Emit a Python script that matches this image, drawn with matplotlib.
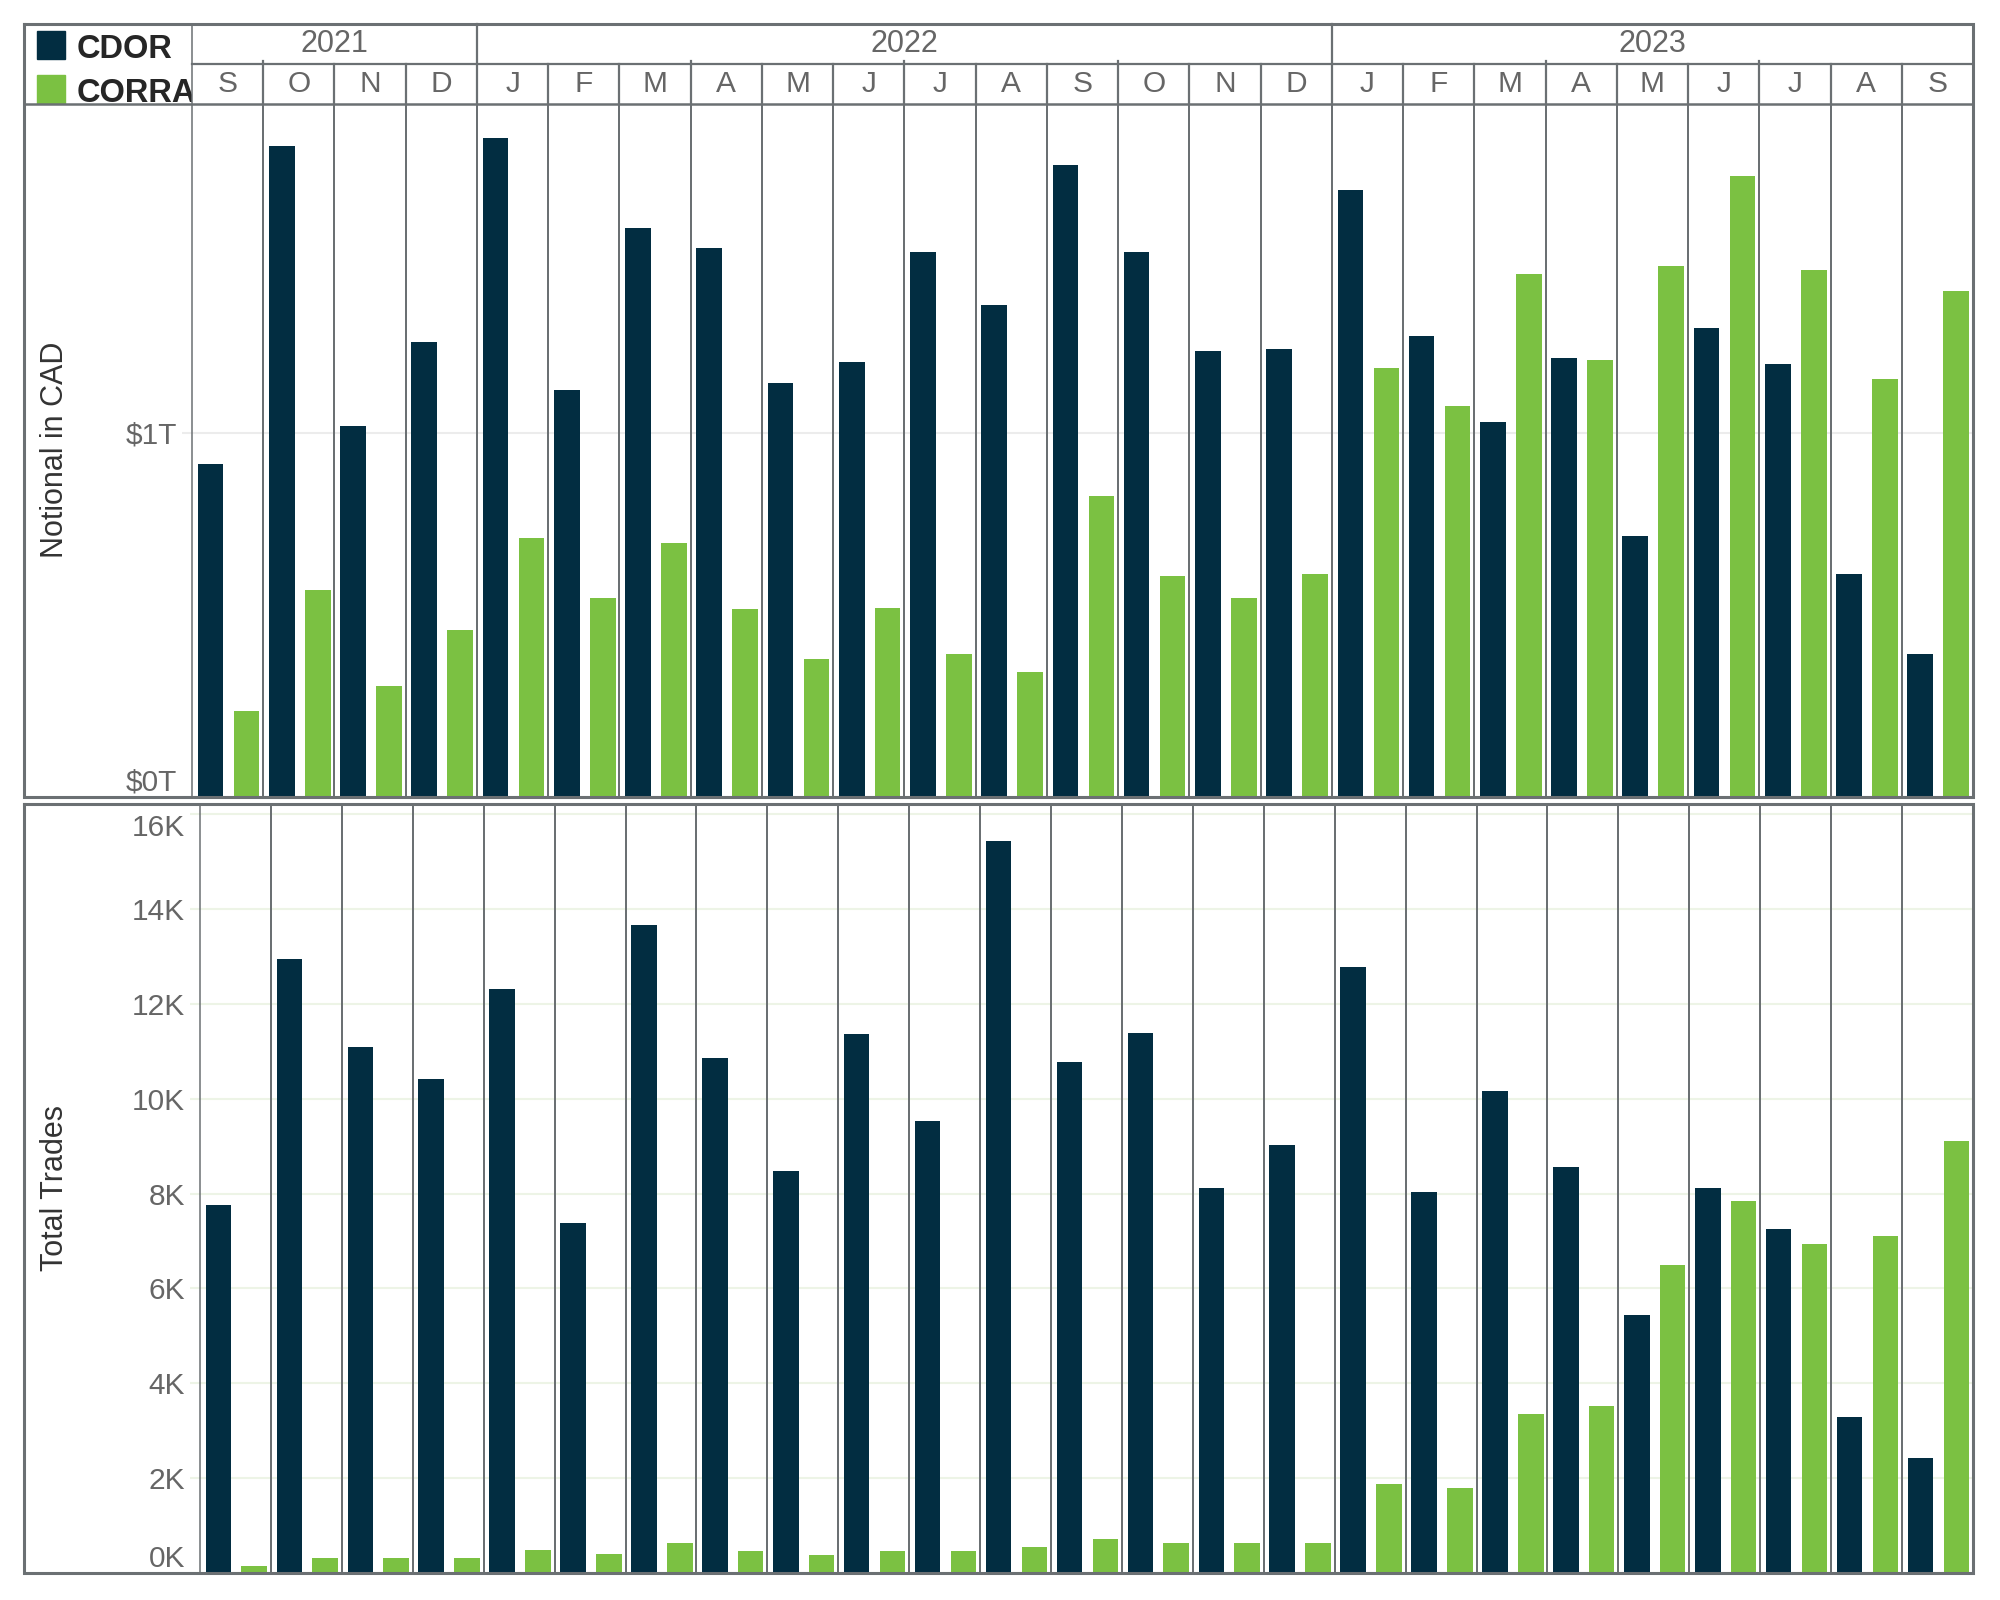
import numpy as np
import matplotlib
matplotlib.use("Agg")
import matplotlib.pyplot as plt
from matplotlib.patches import Rectangle

# months Sep 2021 .. Sep 2023
month_labels = ["S", "O", "N", "D",
                "J", "F", "M", "A", "M", "J", "J", "A", "S", "O", "N", "D",
                "J", "F", "M", "A", "M", "J", "J", "A", "S"]
years = ["2021", "2022", "2023"]
year_spans = [(0, 4), (4, 16), (16, 25)]

# notional in CAD, trillions
cdor_notional = [0.915, 1.788, 1.019, 1.250, 1.810, 1.118, 1.563, 1.509, 1.137, 1.196,
                 1.498, 1.351, 1.737, 1.498, 1.225, 1.232, 1.668, 1.266, 1.030, 1.206,
                 0.717, 1.288, 1.190, 0.614, 0.393]
corra_notional = [0.235, 0.568, 0.305, 0.460, 0.712, 0.547, 0.698, 0.516, 0.379, 0.519,
                  0.393, 0.344, 0.828, 0.607, 0.547, 0.614, 1.179, 1.074, 1.437, 1.201,
                  1.459, 1.706, 1.449, 1.147, 1.389]

# total trades, thousands
cdor_trades = [7.76, 12.94, 11.09, 10.42, 12.32, 7.38, 13.66, 10.85, 8.48, 11.36,
               9.53, 15.44, 10.77, 11.38, 8.11, 9.02, 12.78, 8.03, 10.17, 8.56,
               5.45, 8.11, 7.25, 3.28, 2.42]
corra_trades = [0.15, 0.32, 0.32, 0.32, 0.48, 0.40, 0.64, 0.46, 0.38, 0.46,
                0.46, 0.54, 0.72, 0.64, 0.64, 0.64, 1.88, 1.80, 3.36, 3.52,
                6.50, 7.84, 6.93, 7.11, 9.10]

CDOR_COLOR = "#022d41"
CORRA_COLOR = "#7bc142"
BORDER = "#6b7073"
TICK_GREY = "#666666"
TITLE_GREY = "#333333"

plt.rcParams["font.family"] = ["Liberation Sans", "DejaVu Sans"]

W, H = 2000, 1600
fig = plt.figure(figsize=(20, 16), dpi=100)


def box(x0, y0, x1, y1):
    # figure rect from pixel coords (origin top-left)
    return [x0 / W, 1 - y1 / H, (x1 - x0) / W, (y1 - y0) / H]


n = len(month_labels)
x = np.arange(n)
bar_w = 0.36


def draw_panel(ax, cdor, corra, ymax, ticks, labels, grid_color):
    ax.set_xlim(0, n)
    ax.set_ylim(0, ymax)
    ax.bar(x + 0.08, cdor, width=bar_w, align="edge", color=CDOR_COLOR, zorder=2)
    ax.bar(x + 0.585, corra, width=bar_w, align="edge", color=CORRA_COLOR, zorder=2)
    for i in range(1, n):
        ax.axvline(i, color=BORDER, lw=1.44, zorder=3)
    ax.set_yticks(ticks)
    ax.set_yticklabels(labels)
    ax.yaxis.grid(True, color=grid_color, lw=1.5, zorder=0)
    ax.set_axisbelow(True)
    ax.set_xticks([])
    ax.tick_params(axis="y", length=7.2, width=1.5, color=grid_color, pad=3.5,
                   labelsize=21.5, labelcolor=TICK_GREY)
    for s in ax.spines.values():
        s.set_visible(False)
    tl = ax.get_yticklabels()
    tl[0].set_va("bottom")
    return tl


# top panel: notional
ax_top = fig.add_axes(box(192, 104, 1973, 797))
draw_panel(ax_top, cdor_notional, corra_notional, 693 / 364,
           [0, 1], ["$0T", "$1T"], "#ececec")

# bottom panel: trades
ax_bot = fig.add_axes(box(200, 804, 1973, 1573))
trade_ticks = list(range(0, 17, 2))
tl = draw_panel(ax_bot, cdor_trades, corra_trades, 769 / 47.43,
                trade_ticks, [f"{t}K" for t in trade_ticks], "#edf4e6")
tl[-1].set_va("top")

fig.text(55 / W, 1 - 450 / H, "Notional in CAD", rotation=90, ha="center", va="center",
         fontsize=22, color=TITLE_GREY)
fig.text(55 / W, 1 - 1188 / H, "Total Trades", rotation=90, ha="center", va="center",
         fontsize=22, color=TITLE_GREY)

# header: years and months
ax_head = fig.add_axes(box(192, 24, 1973, 104))
ax_head.set_xlim(0, n)
ax_head.set_ylim(0, 2)
ax_head.axis("off")
for i, m in enumerate(month_labels):
    ax_head.text(i + 0.5, 0.5, m, ha="center", va="center", fontsize=21.5, color=TICK_GREY)
for yr, (a, b) in zip(years, year_spans):
    ax_head.text((a + b) / 2, 1.5, yr, ha="center", va="center", fontsize=22, color=TICK_GREY)
year_edges = [a for a, b in year_spans[1:]]
for i in range(1, n):
    if i in year_edges:
        ax_head.plot([i, i], [0, 2], color=BORDER, lw=1.6, clip_on=False)
    else:
        top = 1.075 if i % 3 == 1 else 1.0
        ax_head.plot([i, i], [0, top], color=BORDER, lw=1.6, clip_on=False)
ax_head.plot([0, n], [1, 1], color=BORDER, lw=1.6, clip_on=False)

# legend cell
ax_leg = fig.add_axes(box(24, 24, 192, 104))
ax_leg.set_xlim(0, 168)
ax_leg.set_ylim(80, 0)
ax_leg.axis("off")
ax_leg.add_patch(Rectangle((13, 7), 28, 28, color=CDOR_COLOR, clip_on=True))
ax_leg.add_patch(Rectangle((13, 51), 28, 30, color=CORRA_COLOR, clip_on=True))
ax_leg.text(53, 34, "CDOR", ha="left", va="baseline", fontsize=23.5, fontweight="bold",
            color="#262626", clip_on=True)
ax_leg.text(53, 78, "CORRA", ha="left", va="baseline", fontsize=23.5, fontweight="bold",
            color="#262626", clip_on=True)

# frame lines
ov = fig.add_axes([0, 0, 1, 1])
ov.set_xlim(0, W)
ov.set_ylim(H, 0)
ov.axis("off")
ov.set_zorder(10)
ov.patch.set_alpha(0)
thick, thin = 2.2, 1.1
ov.plot([24, 1973, 1973, 24, 24], [24, 24, 797, 797, 24], color=BORDER, lw=thick,
        solid_joinstyle="miter")
ov.plot([24, 1973], [104, 104], color=BORDER, lw=1.8)
ov.plot([192, 192], [24, 797], color=BORDER, lw=thin)
ov.plot([24, 1973, 1973, 24, 24], [804, 804, 1573, 1573, 804], color=BORDER, lw=thick,
        solid_joinstyle="miter")
ov.plot([200, 200], [804, 1573], color=BORDER, lw=thin)

fig.savefig("out.png", dpi=100, facecolor="white")
